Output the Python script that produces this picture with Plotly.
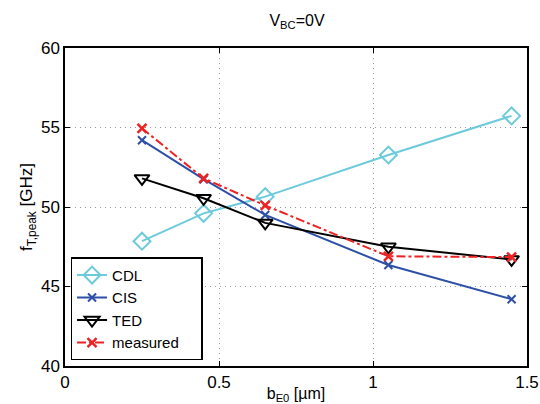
import plotly.graph_objects as go

x_vals = [0.25, 0.45, 0.65, 1.05, 1.45]
cdl = [47.85, 49.6, 50.65, 53.27, 55.73]
cis = [54.2, 51.75, 49.5, 46.35, 44.2]
ted = [51.8, 50.55, 49.0, 47.5, 46.7]
measured = [54.95, 51.8, 50.1, 46.9, 46.85]

fnt = "Liberation Sans, Arial, sans-serif"
fig = go.Figure()
fig.add_trace(go.Scatter(x=x_vals, y=cdl, name="CDL", mode="lines+markers",
    line=dict(color="#6ccadb", width=2),
    marker=dict(symbol="diamond-open", size=13, color="#6ccadb", line=dict(width=2))))
fig.add_trace(go.Scatter(x=x_vals, y=cis, name="CIS", mode="lines+markers",
    line=dict(color="#2d4fa6", width=2),
    marker=dict(symbol="x-thin", size=8, color="#2d4fa6", line=dict(width=2, color="#2d4fa6"))))
fig.add_trace(go.Scatter(x=x_vals, y=ted, name="TED", mode="lines+markers",
    line=dict(color="black", width=2),
    marker=dict(symbol="triangle-down-open", size=13, color="black", line=dict(width=2))))
fig.add_trace(go.Scatter(x=x_vals, y=measured, name="measured\u00a0\u00a0\u00a0\u00a0", mode="lines+markers",
    line=dict(color="#ee2222", width=2, dash="dashdot"),
    marker=dict(symbol="x-thin", size=9, color="#ee2222", line=dict(width=2.5, color="#ee2222"))))

axis_common = dict(showline=True, linecolor="black", linewidth=1.5, mirror="ticks",
    ticks="inside", ticklen=5, tickcolor="black", zeroline=False, automargin=False,
    showgrid=True, gridcolor="#999999", griddash="1px,4px", gridwidth=1,
    tickfont=dict(family=fnt, size=17, color="black"))

fig.update_layout(
    width=540, height=404,
    margin=dict(l=65, r=13, t=48, b=38),
    plot_bgcolor="white", paper_bgcolor="white",
    font=dict(family=fnt, size=15, color="black"),
    title=dict(text="V<sub>BC</sub>=0V", x=0.55, xanchor="center", y=0.95, yanchor="middle",
               font=dict(family=fnt, size=16)),
    xaxis=dict(range=[0, 1.5], tickvals=[0, 0.5, 1, 1.5], ticktext=["0", "0.5", "1", "1.5"],
               title=dict(text="b<sub>E0</sub> [µm]", standoff=0, font=dict(size=16)), **axis_common),
    yaxis=dict(range=[40, 60], tickvals=[40, 45, 50, 55, 60],
               title=dict(text="f<sub>T,peak</sub> [GHz]", standoff=4, font=dict(size=17)), **axis_common),
    legend=dict(x=0.012, y=0.018, xanchor="left", yanchor="bottom",
                bgcolor="white", bordercolor="black", borderwidth=1.5,
                font=dict(family=fnt, size=15), tracegroupgap=0),
    showlegend=True,
)
fig.write_html("out.html")
